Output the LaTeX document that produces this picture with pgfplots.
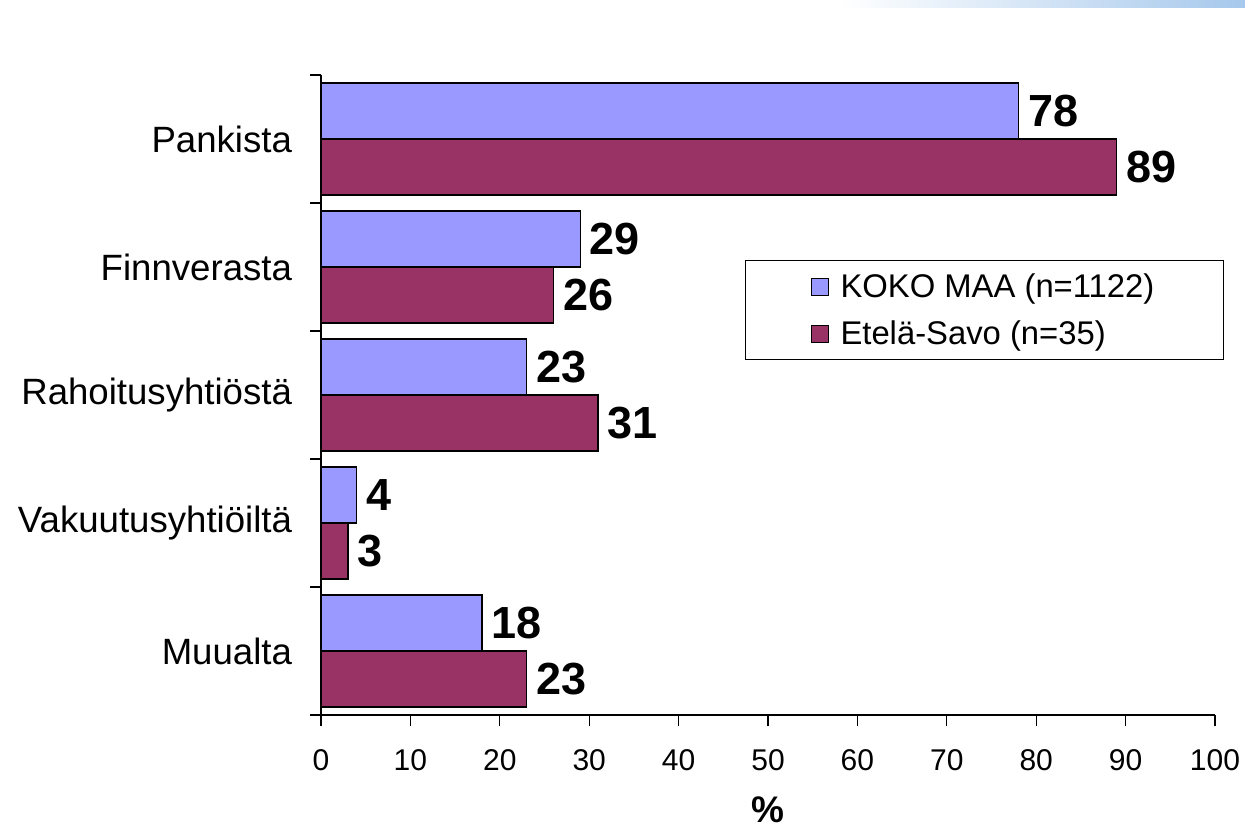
\documentclass[border=0pt]{standalone}
\usepackage{fontspec}
\setmainfont{Liberation Sans}
\usepackage{pgfplots}
\pgfplotsset{compat=1.18}
\definecolor{koko}{HTML}{9999FF}
\definecolor{esavo}{HTML}{993366}
\definecolor{topbar}{HTML}{A6C8EC}
\begin{document}
\begin{tikzpicture}
\path[use as bounding box] (0,0) rectangle (622.5bp,-414bp);
\shade[left color=white, right color=topbar] (420bp,0) rectangle (622.5bp,-3.5bp);
\begin{axis}[
  at={(160.5bp,-357.5bp)}, anchor=south west,
  scale only axis, width=447bp, height=320bp,
  xbar, bar width=0.4375,
  xmin=0, xmax=100, ymin=0, ymax=5,
  axis x line*=bottom, axis y line*=left,
  axis line style={line width=0.6pt, -},
  xtick={0,10,...,100},
  ytick={0,1,...,5}, yticklabels={},
  extra y ticks={0.5,1.5,2.5,3.5,4.5},
  extra y tick labels={Muualta,Vakuutusyhtiöiltä,Rahoitusyhtiöstä,Finnverasta,Pankista},
  extra y tick style={major tick length=0pt, yticklabel style={font=\fontsize{18.3bp}{20bp}\selectfont}},
  tick align=outside, major tick length=5.5bp,
  tick style={black, line width=0.6pt},
  ticklabel style={font=\fontsize{15bp}{17bp}\selectfont},
  /pgf/number format/assume math mode=true,
  yticklabel style={xshift=-11bp},
  xticklabel style={yshift=-8bp},
  xlabel={\textbf{\%}},
  xlabel style={font=\fontsize{18.5bp}{20bp}\selectfont, inner sep=0pt, at={(axis description cs:0.5,0)}, anchor=center, yshift=-47.5bp},
  nodes near coords,
  nodes near coords style={font=\bfseries\fontsize{22.5bp}{24bp}\selectfont, anchor=west, inner sep=1bp, xshift=3.5bp},
  legend style={at={(0.4743,0.7109)}, anchor=north west, draw=black, line width=0.5pt,
    font=\fontsize{16.4bp}{19bp}\selectfont, inner xsep=32.5bp, inner ysep=4.5bp, row sep=6bp, column sep=4bp},
  legend cell align=left,
  legend image code/.code={\draw[#1, draw=black, line width=0.5pt] (0bp,-4.25bp) rectangle (8.5bp,4.25bp);},
]
\addplot[fill=koko, draw=black, line width=0.7pt, bar shift=0.21875] coordinates {(18,0.5) (4,1.5) (23,2.5) (29,3.5) (78,4.5)};
\addplot[fill=esavo, draw=black, line width=0.7pt, bar shift=-0.21875] coordinates {(23,0.5) (3,1.5) (31,2.5) (26,3.5) (89,4.5)};
\legend{KOKO MAA (n=1122), Etelä-Savo (n=35)}
\end{axis}
\end{tikzpicture}
\end{document}
